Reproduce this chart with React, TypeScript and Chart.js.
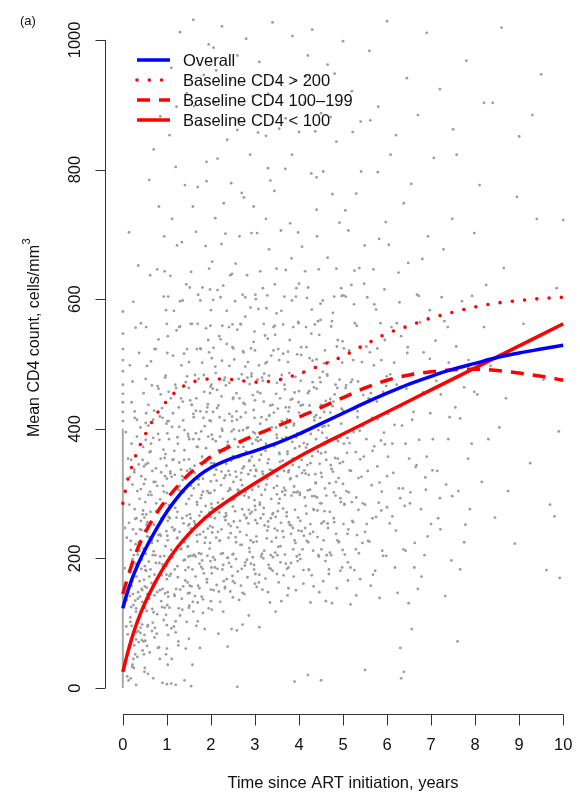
import React, { useEffect, useRef } from "react";
import { Chart, registerables } from "chart.js";

Chart.register(...registerables);

// ---- fitted curves (years since ART initiation vs mean CD4) ----
const timeGrid = [0, 0.1, 0.2, 0.3, 0.4, 0.5, 0.75, 1, 1.25, 1.5, 1.75, 2, 2.5, 3, 3.5, 4, 4.5, 5, 5.5, 6, 6.5, 7, 7.5, 8, 8.5, 9, 9.5, 10];
const overallCD4 = [123, 147, 167, 184, 199, 213, 244, 272, 295, 314, 329, 340, 355, 366, 378, 392, 408, 424, 440, 455, 469, 481, 492, 501, 510, 517, 523, 529];
const baselineOver200 = [285, 318, 341, 360, 376, 390, 421, 443, 460, 470, 475, 477, 476, 472, 475, 485, 498, 512, 530, 547, 559, 571, 580, 588, 594, 598, 601, 603];
const baseline100to199 = [145, 168, 190, 209, 225, 239, 268, 292, 312, 330, 344, 357, 375, 390, 404, 418, 433, 448, 463, 475, 483, 488, 491, 492, 490, 486, 481, 475];
const baselineUnder100 = [25, 52, 76, 97, 115, 131, 165, 194, 218, 238, 255, 270, 294, 316, 337, 357, 375, 392, 409, 426, 443, 460, 477, 494, 511, 528, 545, 562];

const seriesLabels = ["Overall", "Baseline CD4 > 200", "Baseline CD4 100\u2013199", "Baseline CD4 < 100"];

// ---- axis ticks ----
const xTicks = [0, 1, 2, 3, 4, 5, 6, 7, 8, 9, 10];
const yTicks = [0, 200, 400, 600, 800, 1000];
const xTitle = "Time since ART initiation, years";
const yTitle = "Mean CD4 count, cells/mm";
const yTitleSup = "3";
const panelTag = "(a)";

// ---- individual measurements (x = years, y = CD4), flat [x, y, x, y, ...] ----
const baselineSpan = [0, 0, 0, 400];
const baselineTop = [0, 412, 0, 426, 0, 441, 0, 454, 0, 468, 0, 489, 0, 506, 0, 523, 0, 547, 0, 581];
const cloudYear0 = [
  0.05, 42, 0.08, 95, 0.12, 147, 0.15, 61, 0.18, 213, 0.21, 33, 0.24, 128, 0.27, 276, 0.3, 75, 0.33, 188, 0.36, 345, 0.39, 112,
  0.42, 244, 0.45, 58, 0.48, 167, 0.06, 303, 0.1, 18, 0.14, 255, 0.17, 102, 0.2, 377, 0.23, 145, 0.26, 66, 0.29, 222, 0.32, 414,
  0.35, 88, 0.38, 165, 0.41, 307, 0.44, 133, 0.47, 455, 0.04, 185, 0.09, 232, 0.13, 12, 0.16, 326, 0.19, 125, 0.22, 473, 0.25, 205,
  0.28, 52, 0.31, 262, 0.34, 138, 0.37, 517, 0.4, 85, 0.43, 198, 0.46, 372, 0.49, 25, 0.07, 395, 0.11, 83, 0.24, 596, 0.33, 48,
  0.41, 563, 0.45, 268, 0.2, 158, 0.3, 118, 0.38, 292, 0.12, 354, 0.27, 427, 0.35, 652, 0.44, 98, 0.48, 315, 0.16, 498, 0.42, 184,
  0.09, 136, 0.22, 36, 0.31, 172, 0.39, 245, 0.47, 72, 0.14, 703, 0.36, 225, 0.26, 337, 0.18, 15, 0.4, 402, 0.05, 247, 0.29, 556,
  0.43, 153,
  0.5, 123, 0.52, 207, 0.55, 65, 0.58, 298, 0.51, 182, 0.53, 424, 0.56, 95, 0.49, 263, 0.54, 155, 0.57, 347, 0.5, 31, 0.52, 477,
  0.55, 234, 0.6, 138, 0.63, 272, 0.66, 88, 0.69, 386, 0.72, 175, 0.75, 523, 0.78, 114, 0.81, 236, 0.84, 45, 0.87, 333, 0.9, 191,
  0.93, 604, 0.96, 146, 0.98, 285, 1.0, 97, 0.99, 408, 0.97, 219, 0.95, 355, 1.01, 128, 0.62, 637, 0.68, 205, 0.74, 318, 0.8, 62,
  0.86, 453, 0.92, 265, 0.65, 162, 0.71, 428, 0.77, 245, 0.83, 383, 0.89, 125, 0.94, 697, 0.61, 55, 0.67, 335, 0.73, 93, 0.79, 466,
  0.85, 203, 0.91, 312, 0.53, 557, 0.57, 22, 0.59, 195, 0.64, 504, 0.7, 117, 0.76, 285, 0.82, 743, 0.88, 174, 0.97, 482, 1.02, 258,
  0.98, 52, 0.52, 345, 0.55, 145, 0.51, 73, 0.54, 252, 0.58, 405, 0.99, 175, 0.96, 327, 1.0, 562, 0.72, 78, 0.86, 235, 0.63, 365,
  0.9, 417, 0.78, 646, 0.66, 228, 0.84, 151, 0.6, 784, 0.75, 193, 0.93, 105, 0.69, 15, 0.81, 538, 0.95, 643,
];
const cloudYear1 = [
  1.0, 323, 1.02, 148, 1.04, 457, 1.01, 235, 1.03, 82, 1.05, 384, 0.99, 188, 1.02, 543, 1.04, 277, 1.06, 124, 1.08, 636, 1.1, 213,
  1.13, 352, 1.16, 95, 1.19, 468, 1.22, 263, 1.25, 171, 1.28, 557, 1.31, 304, 1.34, 138, 1.37, 413, 1.4, 225, 1.43, 61, 1.46, 335,
  1.49, 186, 1.5, 503, 1.52, 268, 1.48, 392, 1.51, 127, 1.53, 444, 1.47, 218, 1.5, 76, 1.12, 724, 1.18, 245, 1.24, 387, 1.3, 112,
  1.36, 598, 1.42, 166, 1.15, 302, 1.21, 153, 1.27, 433, 1.33, 215, 1.39, 516, 1.45, 102, 1.11, 45, 1.17, 366, 1.23, 683, 1.29, 241,
  1.35, 327, 1.41, 776, 1.07, 262, 1.09, 176, 1.14, 513, 1.2, 86, 1.26, 306, 1.32, 447, 1.38, 197, 1.44, 623, 1.49, 251, 1.52, 158,
  1.5, 353, 1.01, 412, 1.03, 604, 1.05, 201, 1.02, 36, 1.0, 273, 1.06, 853, 1.24, 232, 1.3, 558, 1.12, 403, 1.4, 367, 1.46, 481,
  1.35, 121, 1.18, 142, 1.28, 348, 1.22, 897, 1.44, 284, 1.16, 582, 1.34, 688, 1.48, 146, 1.08, 331, 1.38, 302, 1.26, 66,
  1.55, 312, 1.58, 183, 1.61, 418, 1.64, 253, 1.67, 96, 1.7, 372, 1.73, 208, 1.76, 524, 1.79, 141, 1.82, 303, 1.85, 457, 1.88, 232,
  1.91, 163, 1.94, 388, 1.97, 271, 2.0, 583, 1.99, 196, 2.01, 342, 1.98, 455, 2.02, 121, 2.0, 264, 1.96, 647, 1.57, 562, 1.6, 118,
  1.63, 343, 1.66, 704, 1.69, 226, 1.72, 477, 1.75, 62, 1.78, 396, 1.81, 618, 1.84, 177, 1.87, 334, 1.9, 812, 1.93, 246, 1.95, 123,
  1.56, 437, 1.62, 206, 1.68, 287, 1.74, 154, 1.8, 502, 1.86, 91, 1.92, 433, 1.54, 262, 1.59, 743, 1.65, 172, 1.71, 607, 1.77, 293,
  1.83, 241, 1.89, 555, 1.6, 384, 1.7, 132, 1.8, 197, 1.9, 352, 1.53, 204, 1.64, 483, 1.76, 347, 1.88, 682, 1.97, 413, 1.62, 898,
  1.74, 266, 1.86, 404, 1.99, 301, 1.58, 36, 1.68, 523, 1.82, 116, 1.94, 537, 1.56, 157, 1.72, 322, 1.84, 946, 1.98, 224, 1.66, 428,
  1.78, 187, 1.92, 304, 1.55, 642, 2.01, 468, 1.7, 773,
];
const cloudYear2 = [
  2.0, 152, 2.02, 391, 2.04, 248, 2.06, 525, 2.09, 186, 2.12, 337, 2.15, 614, 2.18, 279, 2.21, 133, 2.24, 450, 2.27, 208, 2.3, 366,
  2.33, 701, 2.36, 168, 2.39, 304, 2.42, 497, 2.45, 239, 2.48, 412, 2.5, 165, 2.51, 318, 2.49, 561, 2.52, 257, 2.5, 446, 2.47, 91,
  2.03, 658, 2.08, 305, 2.14, 432, 2.2, 227, 2.26, 559, 2.32, 154, 2.38, 380, 2.44, 637, 2.05, 202, 2.11, 486, 2.17, 84, 2.23, 313,
  2.29, 748, 2.35, 266, 2.41, 193, 2.46, 351, 2.07, 347, 2.13, 159, 2.19, 543, 2.25, 400, 2.31, 264, 2.37, 846, 2.43, 308, 2.1, 725,
  2.16, 241, 2.22, 603, 2.28, 118, 2.34, 467, 2.4, 335, 2.46, 779, 2.01, 284, 2.04, 462, 2.02, 177, 2.05, 599, 2.49, 206, 2.51, 524,
  2.48, 290, 2.12, 953, 2.2, 418, 2.3, 475, 2.4, 232, 2.26, 183, 2.36, 531, 2.18, 367, 2.44, 149, 2.33, 328, 2.09, 262, 2.15, 817,
  2.38, 64, 2.24, 685, 2.42, 423, 2.06, 988,
  2.55, 273, 2.58, 427, 2.61, 180, 2.64, 356, 2.67, 562, 2.7, 221, 2.73, 398, 2.76, 145, 2.79, 302, 2.82, 637, 2.85, 254, 2.88, 469,
  2.91, 192, 2.94, 377, 2.97, 534, 3.0, 281, 2.99, 417, 3.01, 176, 2.98, 343, 3.02, 600, 2.56, 655, 2.62, 303, 2.68, 158, 2.74, 518,
  2.8, 385, 2.86, 112, 2.92, 702, 2.57, 199, 2.63, 477, 2.69, 332, 2.75, 757, 2.81, 236, 2.87, 350, 2.93, 272, 2.54, 384, 2.6, 553,
  2.66, 241, 2.72, 607, 2.78, 194, 2.84, 503, 2.9, 336, 2.96, 225, 2.59, 89, 2.65, 697, 2.71, 313, 2.77, 438, 2.83, 171, 2.89, 823,
  2.95, 452, 2.53, 507, 2.7, 484, 2.8, 262, 2.9, 587, 2.62, 877, 2.74, 372, 2.86, 275, 2.98, 183, 2.58, 326, 2.68, 418, 2.78, 573,
  2.88, 210, 2.97, 743, 2.64, 136, 2.82, 401, 2.94, 314, 2.56, 233, 2.76, 297, 2.92, 485, 2.6, 976, 3.0, 393, 2.72, 98,
];
const cloudYear3 = [
  3.0, 521, 3.03, 234, 3.06, 387, 3.09, 163, 3.12, 455, 3.15, 298, 3.18, 617, 3.21, 212, 3.24, 366, 3.27, 503, 3.3, 257, 3.33, 421,
  3.36, 184, 3.39, 332, 3.42, 557, 3.45, 246, 3.48, 402, 3.5, 299, 3.49, 647, 3.51, 205, 3.5, 471, 3.05, 702, 3.11, 283, 3.17, 152,
  3.23, 544, 3.29, 347, 3.35, 783, 3.41, 270, 3.47, 118, 3.02, 337, 3.08, 585, 3.14, 203, 3.2, 442, 3.26, 314, 3.32, 677, 3.38, 226,
  3.44, 373, 3.04, 156, 3.1, 352, 3.16, 479, 3.22, 251, 3.28, 606, 3.34, 132, 3.4, 437, 3.46, 545, 3.07, 857, 3.13, 383, 3.19, 268,
  3.25, 724, 3.31, 190, 3.37, 513, 3.43, 309, 3.01, 275, 3.48, 232, 3.5, 378, 3.2, 562, 3.3, 917, 3.4, 181, 3.12, 643, 3.26, 414,
  3.36, 262, 3.44, 767, 3.06, 476, 3.18, 330, 3.32, 482, 3.45, 623, 3.1, 94, 3.28, 243,
  3.55, 363, 3.58, 219, 3.61, 483, 3.64, 277, 3.67, 604, 3.7, 192, 3.73, 415, 3.76, 333, 3.79, 537, 3.82, 251, 3.85, 446, 3.88, 172,
  3.91, 370, 3.94, 617, 3.97, 303, 4.0, 458, 3.99, 243, 4.01, 392, 3.98, 565, 3.53, 523, 3.59, 706, 3.65, 174, 3.71, 387, 3.77, 256,
  3.83, 663, 3.89, 311, 3.95, 203, 3.56, 292, 3.62, 385, 3.68, 461, 3.74, 143, 3.8, 717, 3.86, 354, 3.92, 480, 3.54, 163, 3.6, 582,
  3.66, 335, 3.72, 265, 3.78, 433, 3.84, 823, 3.9, 228, 3.96, 393, 3.57, 447, 3.63, 242, 3.69, 801, 3.75, 503, 3.81, 324, 3.87, 557,
  3.93, 151, 3.52, 273, 3.7, 645, 3.8, 413, 3.9, 937, 3.6, 134, 3.74, 361, 3.86, 247, 3.98, 703, 3.64, 516, 3.82, 193, 3.94, 302,
  3.68, 298, 3.88, 405, 3.55, 863, 3.76, 186,
];
const cloudYear4 = [
  4.02, 301, 4.05, 526, 4.08, 214, 4.11, 378, 4.14, 643, 4.17, 269, 4.2, 455, 4.23, 182, 4.26, 347, 4.29, 584, 4.32, 241, 4.35, 418,
  4.38, 316, 4.41, 697, 4.44, 205, 4.47, 479, 4.5, 332, 4.49, 568, 4.51, 254, 4.04, 436, 4.1, 161, 4.16, 557, 4.22, 329, 4.28, 794,
  4.34, 275, 4.4, 507, 4.46, 148, 4.07, 681, 4.13, 294, 4.19, 376, 4.25, 238, 4.31, 472, 4.37, 859, 4.43, 365, 4.03, 199, 4.09, 486,
  4.15, 331, 4.21, 618, 4.27, 425, 4.33, 157, 4.39, 384, 4.45, 646, 4.06, 352, 4.12, 903, 4.18, 227, 4.24, 509, 4.3, 296, 4.36, 561,
  4.42, 274, 4.48, 417, 4.0, 624, 4.26, 132, 4.4, 738, 4.2, 976,
  4.53, 403, 4.56, 228, 4.59, 521, 4.62, 297, 4.65, 664, 4.68, 183, 4.71, 446, 4.74, 338, 4.77, 579, 4.8, 256, 4.83, 468, 4.86, 154,
  4.89, 381, 4.92, 718, 4.95, 287, 4.98, 502, 5.0, 349, 4.99, 213, 5.01, 606, 4.55, 797, 4.61, 134, 4.67, 405, 4.73, 558, 4.79, 302,
  4.85, 647, 4.91, 226, 4.97, 431, 4.58, 273, 4.64, 484, 4.7, 209, 4.76, 762, 4.82, 355, 4.88, 537, 4.94, 181, 4.54, 598, 4.6, 364,
  4.66, 247, 4.72, 881, 4.78, 442, 4.84, 238, 4.9, 324, 4.96, 617, 4.63, 205, 4.75, 131, 4.87, 463, 4.57, 426, 4.81, 948, 4.93, 387,
];
const cloudYear5 = [
  5.03, 283, 5.07, 467, 5.11, 194, 5.15, 378, 5.19, 622, 5.23, 256, 5.27, 431, 5.31, 559, 5.35, 324, 5.39, 168, 5.43, 503, 5.47, 357,
  5.5, 241, 5.49, 683, 5.05, 737, 5.13, 302, 5.21, 476, 5.29, 214, 5.37, 648, 5.45, 285, 5.09, 363, 5.17, 129, 5.25, 592, 5.33, 418,
  5.41, 797, 5.02, 524, 5.1, 238, 5.18, 335, 5.26, 182, 5.34, 473, 5.42, 326, 5.06, 604, 5.22, 858, 5.38, 397, 5.14, 521, 5.3, 143,
  5.46, 452, 5.2, 287, 5.44, 224, 5.12, 706,
  5.53, 384, 5.57, 227, 5.61, 518, 5.65, 313, 5.69, 646, 5.73, 181, 5.77, 442, 5.81, 286, 5.85, 563, 5.89, 212, 5.93, 394, 5.97, 719,
  6.0, 327, 5.99, 481, 5.55, 603, 5.63, 158, 5.71, 373, 5.79, 796, 5.87, 274, 5.95, 537, 5.59, 446, 5.67, 262, 5.75, 584, 5.83, 139,
  5.91, 457, 5.54, 253, 5.7, 498, 5.86, 382, 5.98, 204, 5.62, 876, 5.78, 342, 5.94, 615, 5.66, 417, 5.82, 693,
];
const cloudYear6to7 = [
  6.02, 423, 6.06, 254, 6.1, 557, 6.14, 332, 6.18, 186, 6.22, 468, 6.26, 641, 6.3, 293, 6.34, 405, 6.38, 748, 6.42, 212, 6.46, 517,
  6.5, 354, 6.49, 131, 6.04, 684, 6.12, 377, 6.2, 243, 6.28, 595, 6.36, 308, 6.44, 462, 6.08, 823, 6.16, 502, 6.24, 147, 6.32, 543,
  6.4, 281, 6.48, 656, 6.3, 62, 6.0, 279, 6.32, 15, 6.38, 25,
  6.53, 302, 6.58, 485, 6.63, 224, 6.68, 607, 6.73, 383, 6.78, 172, 6.83, 518, 6.88, 306, 6.93, 697, 6.98, 424, 7.0, 253, 6.55, 778,
  6.65, 341, 6.75, 564, 6.85, 205, 6.95, 458, 6.6, 426, 6.7, 153, 6.8, 662, 6.9, 357, 6.56, 91, 6.97, 583,
  7.04, 384, 7.1, 536, 7.16, 262, 7.22, 453, 7.28, 677, 7.34, 314, 7.4, 502, 7.46, 197, 7.06, 818, 7.14, 335, 7.24, 603, 7.32, 142,
  7.42, 418, 7.48, 724, 7.2, 293, 7.38, 557,
  7.55, 433, 7.62, 304, 7.7, 597, 7.78, 252, 7.85, 506, 7.92, 377, 7.98, 702, 7.58, 823, 7.66, 183, 7.75, 464, 7.88, 276, 7.6, 72,
];
const cloudYear8to10 = [
  8.05, 453, 8.15, 318, 8.25, 622, 8.35, 497, 8.45, 263, 8.1, 776, 8.3, 384, 8.4, 903, 8.2, 557,
  8.55, 402, 8.65, 648, 8.75, 304, 8.85, 523, 8.95, 758, 8.7, 447, 8.9, 223,
  9.1, 562, 9.25, 347, 9.4, 724, 9.55, 476, 9.7, 283, 9.85, 617, 9.3, 884, 9.9, 396, 9.62, 182, 9.8, 265, 9.92, 170, 10.0, 722,
];
const cloudHigh = [
  0.85, 882, 1.1, 957, 1.3, 1012, 1.45, 918, 1.6, 1031, 1.75, 869, 1.95, 993, 2.1, 904, 2.25, 1021, 2.45, 938, 2.6, 861, 2.8, 1002,
  2.95, 913, 3.1, 966, 3.25, 852, 3.4, 1027, 3.55, 934, 3.7, 879, 3.85, 1006, 4.0, 858, 4.15, 943, 4.3, 1016, 4.5, 887, 4.65, 962,
  4.85, 843, 5.0, 998, 5.2, 921, 5.4, 874, 5.6, 983, 5.8, 897, 6.0, 1029, 6.2, 853, 6.45, 941, 6.7, 884, 6.9, 1011, 7.2, 924,
  7.5, 862, 7.8, 968, 8.2, 903, 8.6, 1019, 9.0, 851, 9.5, 947, 1.9, 782, 2.7, 764, 3.3, 802, 4.4, 788, 5.3, 763, 0.7, 831, 1.2, 804,
];
const cloudLow = [0.9, 8, 1.0, 6, 1.1, 7, 1.2, 5, 1.55, 3, 2.6, 2, 3.9, 10, 4.2, 20, 4.5, 12, 5.5, 28, 1.4, 12, 0.3, 5];

// denser core of the cloud: x in hundredths of a year, y = CD4
const coreHundredthsA = [
  14, 63, 16, 142, 18, 227, 20, 96, 22, 314, 24, 45, 26, 178, 28, 261, 30, 123, 32, 388, 34, 206, 36, 71, 15, 283, 17, 109, 19, 352,
  21, 164, 23, 245, 25, 31, 27, 417, 29, 192, 31, 86, 33, 304, 35, 148, 18, 67, 22, 199, 26, 333, 30, 238, 34, 104, 20, 441, 28, 135,
  38, 212, 40, 93, 42, 327, 44, 151, 46, 274, 48, 52, 50, 188, 52, 383, 54, 119, 56, 256, 58, 437, 60, 172, 62, 303, 39, 141, 41, 258,
  43, 74, 45, 352, 47, 215, 49, 126, 51, 287, 53, 181, 55, 497, 57, 97, 59, 233, 61, 364, 50, 157, 50, 243, 51, 322, 49, 82, 52, 409,
  53, 268, 48, 342,
  63, 183, 65, 298, 67, 122, 69, 414, 71, 252, 73, 163, 75, 339, 77, 84, 79, 227, 81, 462, 83, 193, 85, 291, 87, 134, 64, 377, 66, 224,
  68, 101, 70, 318, 72, 523, 74, 205, 76, 273, 78, 148, 80, 392, 82, 63, 84, 237, 86, 354, 66, 467, 72, 143, 78, 312, 84, 419, 70, 211,
  88, 262, 90, 153, 92, 368, 94, 204, 96, 479, 98, 113, 100, 301, 102, 228, 104, 412, 106, 173, 108, 334, 110, 92, 112, 248, 89, 432,
  91, 187, 93, 303, 95, 124, 97, 361, 99, 242, 100, 168, 101, 517, 101, 393, 103, 141, 105, 282, 107, 203, 109, 447, 111, 326, 100, 61,
  99, 343, 102, 197, 98, 583, 104, 264,
  113, 202, 115, 353, 117, 144, 119, 278, 121, 463, 123, 231, 125, 377, 127, 123, 129, 312, 131, 214, 133, 498, 135, 262, 137, 157,
  114, 424, 116, 243, 118, 329, 120, 103, 122, 552, 124, 188, 126, 294, 128, 403, 130, 152, 132, 337, 134, 226, 136, 442, 118, 183,
  124, 272, 130, 597, 136, 321, 126, 72,
  138, 254, 140, 398, 142, 182, 144, 327, 146, 523, 148, 219, 150, 292, 151, 384, 152, 147, 150, 463, 149, 203, 153, 338, 155, 246,
  157, 437, 159, 133, 161, 308, 139, 352, 141, 198, 143, 472, 145, 266, 147, 163, 149, 388, 151, 253, 154, 562, 156, 297, 158, 204,
  160, 423, 162, 257, 150, 124, 152, 618,
  163, 332, 165, 203, 167, 447, 169, 283, 171, 158, 173, 384, 175, 237, 177, 523, 179, 298, 181, 184, 183, 417, 185, 263, 187, 348,
  164, 142, 166, 393, 168, 236, 170, 562, 172, 314, 174, 192, 176, 427, 178, 272, 180, 357, 182, 137, 184, 483, 186, 224, 170, 103,
  176, 598, 182, 323, 168, 372, 178, 207,
];
const coreHundredthsB = [
  188, 281, 190, 426, 192, 204, 194, 355, 196, 518, 198, 250, 200, 319, 200, 412, 201, 186, 199, 465, 202, 278, 204, 384, 206, 151,
  208, 329, 210, 496, 212, 232, 189, 370, 191, 168, 193, 438, 195, 301, 197, 215, 199, 559, 201, 347, 203, 240, 205, 426, 207, 276,
  209, 198, 211, 381, 200, 134, 198, 615, 202, 509,
  213, 320, 215, 184, 217, 436, 219, 271, 221, 388, 223, 207, 225, 505, 227, 292, 229, 165, 231, 413, 233, 259, 235, 346, 237, 201,
  214, 460, 216, 286, 218, 149, 220, 363, 222, 538, 224, 245, 226, 397, 228, 190, 230, 324, 232, 479, 234, 270, 236, 582, 220, 228,
  228, 621, 232, 156, 224, 334,
  238, 375, 240, 253, 242, 471, 244, 306, 246, 187, 248, 419, 250, 280, 250, 358, 251, 207, 249, 526, 252, 399, 254, 162, 256, 334,
  258, 455, 260, 248, 262, 372, 239, 201, 241, 557, 243, 329, 245, 250, 247, 396, 249, 173, 251, 448, 253, 291, 255, 597, 257, 225,
  259, 414, 261, 306, 250, 140, 248, 639,
  263, 305, 265, 447, 267, 221, 269, 378, 271, 276, 273, 520, 275, 342, 277, 189, 279, 425, 281, 263, 283, 479, 285, 330, 287, 216,
  264, 397, 266, 258, 268, 561, 270, 184, 272, 339, 274, 440, 276, 267, 278, 603, 280, 365, 282, 198, 284, 402, 286, 294, 272, 147,
  278, 496, 268, 321,
  288, 352, 290, 228, 292, 481, 294, 306, 296, 395, 298, 190, 300, 327, 300, 444, 301, 259, 299, 550, 302, 383, 304, 226, 306, 457,
  308, 311, 310, 175, 312, 408, 289, 269, 291, 524, 293, 357, 295, 202, 297, 429, 299, 290, 301, 607, 303, 335, 305, 254, 307, 381,
  309, 498, 311, 286, 300, 161,
  313, 262, 315, 418, 317, 334, 319, 200, 321, 485, 323, 306, 325, 377, 327, 231, 329, 539, 331, 353, 333, 185, 335, 436, 337, 292,
  314, 360, 316, 207, 318, 474, 320, 278, 322, 395, 324, 169, 326, 586, 328, 323, 330, 249, 332, 420, 334, 337, 336, 205, 324, 501,
  330, 148,
];
const coreHundredthsC = [
  338, 402, 340, 268, 342, 521, 344, 335, 346, 209, 348, 454, 350, 312, 350, 386, 351, 243, 349, 578, 352, 431, 354, 285, 356, 361,
  358, 194, 360, 477, 362, 303, 339, 336, 341, 202, 343, 425, 345, 559, 347, 264, 349, 391, 351, 327, 353, 218, 355, 506, 357, 349,
  359, 255, 361, 412, 350, 176,
  363, 351, 365, 233, 367, 468, 369, 305, 371, 402, 373, 184, 375, 519, 377, 336, 379, 252, 381, 445, 383, 297, 385, 380, 387, 214,
  364, 561, 366, 309, 368, 206, 370, 433, 372, 271, 374, 365, 376, 154, 378, 486, 380, 322, 382, 238, 384, 598, 386, 344, 376, 427,
  388, 302, 390, 456, 392, 224, 394, 387, 396, 515, 398, 263, 400, 341, 400, 425, 401, 206, 399, 563, 402, 298, 404, 474, 406, 242,
  408, 395, 410, 182, 412, 336, 389, 408, 391, 275, 393, 604, 395, 327, 397, 196, 399, 441, 401, 373, 403, 258, 405, 514, 407, 332,
  409, 437, 411, 235,
  413, 423, 415, 281, 417, 526, 419, 344, 421, 225, 423, 458, 425, 306, 427, 392, 429, 174, 431, 505, 433, 276, 435, 413, 437, 330,
  414, 247, 416, 371, 418, 602, 420, 305, 422, 183, 424, 436, 426, 253, 428, 547, 430, 358, 432, 212, 434, 464, 436, 296,
  438, 317, 440, 462, 442, 233, 444, 398, 446, 545, 448, 285, 450, 362, 450, 437, 451, 214, 449, 593, 452, 326, 454, 488, 456, 257,
  458, 404, 460, 196, 462, 352, 439, 421, 441, 294, 443, 566, 445, 203, 447, 346, 449, 472, 451, 285, 453, 394, 455, 165, 457, 501,
  459, 308, 461, 443,
  463, 386, 465, 254, 467, 503, 469, 316, 471, 425, 473, 205, 475, 566, 477, 334, 479, 262, 481, 453, 483, 297, 485, 384, 487, 228,
  464, 482, 468, 176, 472, 344, 476, 435, 480, 604, 484, 318, 486, 527, 470, 272,
  488, 354, 490, 225, 492, 476, 494, 293, 496, 408, 498, 186, 500, 315, 500, 428, 501, 253, 499, 535, 502, 377, 504, 206, 506, 463,
  508, 304, 510, 386, 512, 245, 493, 347, 497, 605, 503, 284, 507, 426, 511, 166,
  515, 336, 518, 472, 521, 258, 524, 395, 527, 563, 530, 294, 533, 427, 536, 208, 539, 353, 517, 186, 523, 506, 529, 364, 535, 275,
  526, 644, 532, 236,
  545, 404, 550, 283, 553, 527, 556, 335, 560, 226, 563, 455, 567, 366, 571, 592, 575, 264, 579, 415, 583, 317, 587, 506, 591, 204,
  595, 376, 548, 624, 558, 447, 568, 175, 578, 524, 588, 303, 598, 466,
  602, 357, 607, 484, 612, 265, 617, 406, 622, 563, 627, 308, 632, 435, 637, 214, 642, 377, 647, 526, 652, 285, 657, 414, 662, 186,
  667, 344, 672, 605, 677, 276, 682, 456, 687, 325, 692, 234, 697, 508,
  703, 336, 712, 474, 721, 245, 730, 566, 739, 384, 748, 296, 757, 527, 766, 416, 775, 225, 784, 354, 793, 605, 798, 457,
];

const FONT = "'Liberation Sans', Arial, Helvetica, sans-serif";
const INK = "#111111";
const AXIS = "#333333";
const POINT_GREY = "#9d9d9d";

function toPoints(flat: number[], xUnit = 1) {
  const pts: { x: number; y: number }[] = [];
  for (let i = 0; i + 1 < flat.length; i += 2) pts.push({ x: flat[i] * xUnit, y: flat[i + 1] });
  return pts;
}
function curve(values: number[]) {
  return timeGrid.map((t, i) => ({ x: t, y: values[i] }));
}

const decorPlugin = {
  id: "rStyleDecor",
  afterDraw(chart: any) {
    const ctx = chart.ctx as CanvasRenderingContext2D;
    const xs = chart.scales.x;
    const ys = chart.scales.y;
    const area = chart.chartArea;
    ctx.save();
    ctx.strokeStyle = AXIS;
    ctx.lineWidth = 1;
    const yTop = ys.getPixelForValue(yTicks[yTicks.length - 1]);
    const yBot = ys.getPixelForValue(yTicks[0]);
    const ax = Math.round(area.left) + 0.5;
    ctx.beginPath();
    ctx.moveTo(ax, yTop);
    ctx.lineTo(ax, yBot);
    for (const t of yTicks) {
      const py = Math.round(ys.getPixelForValue(t)) + 0.5;
      ctx.moveTo(ax, py);
      ctx.lineTo(ax - 10, py);
    }
    ctx.stroke();
    const ay = Math.round(area.bottom) + 0.5;
    const xL = xs.getPixelForValue(xTicks[0]);
    const xR = xs.getPixelForValue(xTicks[xTicks.length - 1]);
    ctx.beginPath();
    ctx.moveTo(xL, ay);
    ctx.lineTo(xR, ay);
    for (const t of xTicks) {
      const px = Math.round(xs.getPixelForValue(t)) + 0.5;
      ctx.moveTo(px, ay);
      ctx.lineTo(px, ay + 11);
    }
    ctx.stroke();

    ctx.fillStyle = INK;
    ctx.font = `16.5px ${FONT}`;
    ctx.textAlign = "center";
    ctx.textBaseline = "middle";
    for (const t of xTicks) {
      ctx.fillText(String(t), xs.getPixelForValue(t), area.bottom + 31);
    }
    for (const t of yTicks) {
      ctx.save();
      ctx.translate(area.left - 30, ys.getPixelForValue(t));
      ctx.rotate(-Math.PI / 2);
      ctx.fillText(String(t), 0, 0);
      ctx.restore();
    }
    ctx.fillText(xTitle, (area.left + area.right + 5) / 2, area.bottom + 69);
    ctx.save();
    ctx.translate(35, 338);
    ctx.rotate(-Math.PI / 2);
    ctx.font = `16px ${FONT}`;
    const w1 = ctx.measureText(yTitle).width;
    ctx.font = `11px ${FONT}`;
    const w2 = ctx.measureText(yTitleSup).width;
    const start = -(w1 + w2) / 2;
    ctx.textAlign = "left";
    ctx.font = `16px ${FONT}`;
    ctx.fillText(yTitle, start, 0);
    ctx.font = `11px ${FONT}`;
    ctx.fillText(yTitleSup, start + w1 + 0.5, -8);
    ctx.restore();
    ctx.font = `13px ${FONT}`;
    ctx.textAlign = "left";
    ctx.fillText(panelTag, 20, 21);

    const legendSets = chart.data.datasets.filter((d: any) => d.isCurve);
    legendSets.forEach((d: any, i: number) => {
      const ly = 60 + i * 20;
      ctx.save();
      ctx.strokeStyle = d.borderColor;
      ctx.lineWidth = d.borderWidth;
      ctx.lineCap = d.borderCapStyle || "butt";
      ctx.setLineDash(d.borderDash || []);
      ctx.beginPath();
      ctx.moveTo(137, ly);
      ctx.lineTo(170, ly);
      ctx.stroke();
      ctx.restore();
      ctx.fillStyle = INK;
      ctx.font = `16.5px ${FONT}`;
      ctx.textAlign = "left";
      ctx.textBaseline = "middle";
      ctx.fillText(d.label, 183, ly + 1);
    });
    ctx.restore();
  },
};

export default function App() {
  const canvasRef = useRef<HTMLCanvasElement | null>(null);

  useEffect(() => {
    const canvas = canvasRef.current;
    if (!canvas) return;
    const cloud = [
      ...toPoints([
        ...cloudYear0, ...cloudYear1, ...cloudYear2, ...cloudYear3, ...cloudYear4,
        ...cloudYear5, ...cloudYear6to7, ...cloudYear8to10, ...cloudHigh, ...cloudLow, ...baselineTop,
      ]),
      ...toPoints([...coreHundredthsA, ...coreHundredthsB, ...coreHundredthsC], 0.01),
    ];
    const chart = new Chart(canvas, {
      type: "scatter",
      data: {
        datasets: [
          {
            label: seriesLabels[0], isCurve: true, data: curve(overallCD4), showLine: true,
            borderColor: "#0000ff", borderWidth: 3.5, pointRadius: 0, cubicInterpolationMode: "monotone", order: 1,
          } as any,
          {
            label: seriesLabels[1], isCurve: true, data: curve(baselineOver200), showLine: true,
            borderColor: "#ff0000", borderWidth: 3.6, borderDash: [0, 12.3], borderCapStyle: "round",
            pointRadius: 0, cubicInterpolationMode: "monotone", order: 2,
          } as any,
          {
            label: seriesLabels[2], isCurve: true, data: curve(baseline100to199), showLine: true,
            borderColor: "#ff0000", borderWidth: 3.5, borderDash: [13, 9], borderCapStyle: "butt",
            pointRadius: 0, cubicInterpolationMode: "monotone", order: 3,
          } as any,
          {
            label: seriesLabels[3], isCurve: true, data: curve(baselineUnder100), showLine: true,
            borderColor: "#ff0000", borderWidth: 3.5, pointRadius: 0, cubicInterpolationMode: "monotone", order: 4,
          } as any,
          {
            label: "baseline", data: toPoints(baselineSpan), showLine: true,
            borderColor: "#a9a9a9", borderWidth: 2, pointRadius: 0, order: 9,
          } as any,
          {
            label: "measurements", data: cloud, showLine: false,
            pointRadius: 1.4, pointBorderWidth: 0, pointBackgroundColor: POINT_GREY, order: 10,
          } as any,
        ],
      },
      options: {
        responsive: false,
        animation: false,
        devicePixelRatio: 1,
        events: [],
        layout: { padding: { left: 105, top: 14, right: 0, bottom: 78 } },
        plugins: { legend: { display: false }, tooltip: { enabled: false } },
        scales: {
          x: { type: "linear", min: -0.405, max: 10.29, display: false },
          y: { type: "linear", min: -40, max: 1040, display: false },
        },
      },
      plugins: [decorPlugin],
    });
    return () => chart.destroy();
  }, []);

  return (
    <div style={{ position: "absolute", left: 0, top: 0, width: 580, height: 792, background: "#fff" }}>
      <canvas ref={canvasRef} width={580} height={792} style={{ display: "block" }} />
    </div>
  );
}
